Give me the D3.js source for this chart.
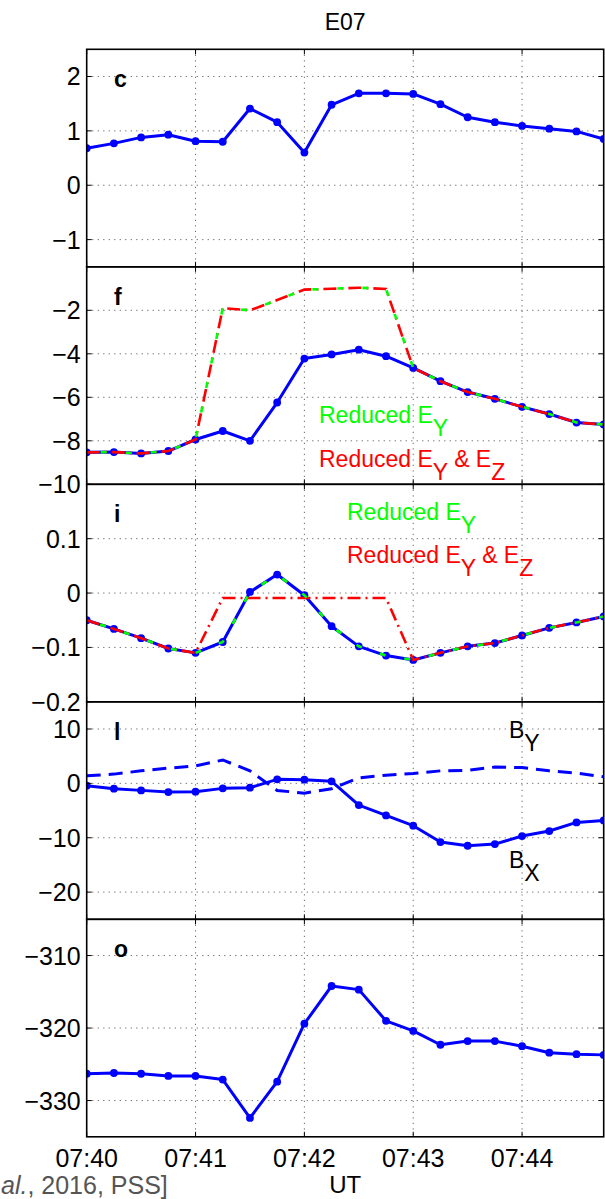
<!DOCTYPE html>
<html><head><meta charset="utf-8">
<script src="https://cdn.jsdelivr.net/npm/d3@7"></script>
<style>
body{margin:0;background:#fff}
svg{display:block}
text{font-family:"Liberation Sans",Arial,Helvetica,sans-serif}
</style>
</head><body>
<svg id="chart" width="605" height="1199"></svg>
<script>
// ---------------- data ----------------
const times = ["07:40:00","07:40:15","07:40:30","07:40:45","07:41:00","07:41:15","07:41:30","07:41:45",
               "07:42:00","07:42:15","07:42:30","07:42:45","07:43:00","07:43:15","07:43:30","07:43:45",
               "07:44:00","07:44:15","07:44:30","07:44:45"];
const xTickLabels = ["07:40","07:41","07:42","07:43","07:44"];
const title = "E07";
const xLabel = "UT";
const panelLetters = ["c","f","i","l","o"];

const panelC = [0.68,0.77,0.88,0.93,0.81,0.80,1.41,1.16,0.60,1.48,1.69,1.69,1.68,1.49,1.25,1.16,1.09,1.04,0.99,0.85];
const ticksC = [-1,0,1,2];

const panelF = [-8.53,-8.52,-8.58,-8.47,-7.94,-7.55,-8.00,-6.24,-4.22,-4.03,-3.81,-4.11,-4.65,-5.26,-5.76,-6.07,-6.44,-6.77,-7.16,-7.25];
const panelFReducedEy = [-8.53,-8.52,-8.58,-8.47,-7.94,-1.90,-2.00,-1.53,-1.05,-1.01,-0.96,-1.02,-4.65,-5.26,-5.76,-6.07,-6.44,-6.77,-7.16,-7.25];
const panelFReducedEyEz = [-8.53,-8.52,-8.58,-8.47,-7.94,-1.90,-2.00,-1.53,-1.05,-1.01,-0.96,-1.02,-4.65,-5.26,-5.76,-6.07,-6.44,-6.77,-7.16,-7.25];
const ticksF = [-10,-8,-6,-4,-2];

const panelI = [-0.050,-0.066,-0.083,-0.102,-0.110,-0.090,0.002,0.034,-0.004,-0.061,-0.098,-0.115,-0.123,-0.110,-0.098,-0.092,-0.078,-0.064,-0.054,-0.043];
const panelIReducedEy = [-0.050,-0.066,-0.083,-0.102,-0.110,-0.090,0.002,0.034,-0.004,-0.061,-0.098,-0.115,-0.123,-0.110,-0.098,-0.092,-0.078,-0.064,-0.054,-0.043];
const panelIReducedEyEz = [-0.050,-0.066,-0.083,-0.102,-0.110,-0.009,-0.009,-0.009,-0.009,-0.009,-0.009,-0.009,-0.123,-0.110,-0.098,-0.092,-0.078,-0.064,-0.054,-0.043];
const ticksI = [-0.2,-0.1,0,0.1];

const panelLBx = [-0.43,-0.98,-1.29,-1.60,-1.53,-0.92,-0.80,0.74,0.67,0.37,-3.99,-5.89,-7.79,-10.8,-11.47,-11.17,-9.69,-8.77,-7.18,-6.81];
const panelLBy = [1.4,1.7,2.3,2.8,3.2,4.3,2.3,-1.3,-1.8,-1.0,1.0,1.5,1.8,2.3,2.4,3.0,2.9,2.3,1.9,1.2];
const ticksL = [-20,-10,0,10];

const panelO = [-326.3,-326.2,-326.3,-326.6,-326.6,-327.1,-332.4,-327.4,-319.4,-314.2,-314.7,-319.0,-320.4,-322.3,-321.8,-321.8,-322.5,-323.4,-323.6,-323.7];
const ticksO = [-330,-320,-310];

const legendEy = ["Reduced E","Y"];
const legendEyEz = ["Reduced E","Y"," & E","Z"];

// ---------------- layout ----------------
const svg = d3.select("#chart");
const left = 86.7, right = 603.7, ph = 217.5;
const tops = [49.3, 266.8, 484.3, 701.8, 919.3];
const BLUE = "#0000ff", GREEN = "#00ff00", RED = "#ff0000";
const parse = d3.utcParse("%H:%M:%S");
const tDates = times.map(parse);
const x = d3.scaleUtc().domain([parse("07:40:00"), parse("07:44:45")]).range([left, right]);
const xTicks = xTickLabels.map(s => parse(s + ":00"));
const fmtMinus = v => d3.format("")(v).replace("-", "\u2212");

const panels = [
  {domain:[-1.5,2.5], ticks:ticksC},
  {domain:[-10,0], ticks:ticksF},
  {domain:[-0.2,0.2], ticks:ticksI},
  {domain:[-25,15], ticks:ticksL},
  {domain:[-335,-305], ticks:ticksO}
];

svg.append("defs").append("clipPath").attr("id","clipAll")
  .append("rect").attr("x",left).attr("y",tops[0]).attr("width",right-left).attr("height",ph*5);

panels.forEach((p,i) => {
  const top = tops[i], bottom = top + ph;
  p.y = d3.scaleLinear().domain(p.domain).range([bottom, top]);
  const g = svg.append("g");
  p.g = g;
  // grid
  const grid = g.append("g").attr("stroke","#555").attr("stroke-width",0.9).attr("stroke-dasharray","1.2,4.3");
  p.ticks.forEach(t => {
    const yy = p.y(t);
    if (yy > top + 1 && yy < bottom - 1)
      grid.append("line").attr("x1",left).attr("x2",right).attr("y1",yy).attr("y2",yy);
  });
  xTicks.forEach(t => {
    const xx = x(t);
    if (xx > left + 1 && xx < right - 1)
      grid.append("line").attr("x1",xx).attr("x2",xx).attr("y1",top).attr("y2",bottom);
  });
  // y tick labels
  p.ticks.forEach(t => {
    g.append("text").attr("x",left-6).attr("y",p.y(t)).attr("dy","0.36em")
      .attr("text-anchor","end").attr("font-size",25).attr("fill","#000")
      .text(fmtMinus(t));
  });
});

function seriesLine(p, values) {
  return d3.line().x((d,k)=>x(tDates[k])).y(d=>p.y(d))(values);
}
function drawSolid(p, values, withMarkers) {
  const g = p.g.append("g").attr("clip-path","url(#clipAll)");
  g.append("path").attr("d",seriesLine(p,values)).attr("fill","none")
    .attr("stroke",BLUE).attr("stroke-width",3).attr("stroke-linejoin","round");
  if (withMarkers) {
    g.selectAll("circle").data(values).join("circle")
      .attr("cx",(d,k)=>x(tDates[k])).attr("cy",d=>p.y(d)).attr("r",3.9).attr("fill",BLUE);
  }
}
function drawDashed(p, values, color, dash, width, offset) {
  p.g.append("path").attr("clip-path","url(#clipAll)").attr("d",seriesLine(p,values)).attr("fill","none")
    .attr("stroke",color).attr("stroke-width",width).attr("stroke-dasharray",dash)
    .attr("stroke-dashoffset",offset||0);
}

// c
drawSolid(panels[0], panelC, true);
// f
drawSolid(panels[1], panelF, true);
drawDashed(panels[1], panelFReducedEyEz, RED, "13,5,2,5", 2.6, 0);
drawDashed(panels[1], panelFReducedEy, GREEN, "6,19", 2.6, -14);
// i
drawSolid(panels[2], panelI, true);
drawDashed(panels[2], panelIReducedEyEz, RED, "13,5,2,5", 2.6, 0);
drawDashed(panels[2], panelIReducedEy, GREEN, "6,19", 2.6, -14);
// l
drawSolid(panels[3], panelLBx, true);
drawDashed(panels[3], panelLBy, BLUE, "14,8", 3, 0);
// o
drawSolid(panels[4], panelO, true);

// legends
function subText(parent, xPos, yPos, parts, color, size) {
  const t = parent.append("text").attr("x",xPos).attr("y",yPos).attr("font-size",size).attr("fill",color);
  parts.forEach((s,k) => {
    const sub = k % 2 === 1;
    t.append("tspan").attr("dy", k===0 ? 0 : (sub ? 13 : -13)).text(s);
  });
  return t;
}
subText(panels[1].g, 319, 423, legendEy, GREEN, 23);
subText(panels[1].g, 319, 466.5, legendEyEz, RED, 23);
subText(panels[2].g, 347, 520, legendEy, GREEN, 23);
subText(panels[2].g, 347, 563, legendEyEz, RED, 23);
subText(panels[3].g, 509, 738.3, ["B","Y"], "#000", 23);
subText(panels[3].g, 509, 868.3, ["B","X"], "#000", 23);

// frames, inner ticks, letters
panels.forEach((p,i) => {
  const top = tops[i], bottom = top + ph, g = p.g;
  const fr = g.append("g").attr("stroke","#000").attr("stroke-width",1.6);
  fr.append("rect").attr("x",left).attr("y",top).attr("width",right-left).attr("height",ph).attr("fill","none");
  const tl = 5;
  p.ticks.forEach(t => {
    const yy = p.y(t);
    fr.append("line").attr("x1",left).attr("x2",left+tl).attr("y1",yy).attr("y2",yy).attr("stroke-width",1);
    fr.append("line").attr("x1",right).attr("x2",right-tl).attr("y1",yy).attr("y2",yy).attr("stroke-width",1);
  });
  xTicks.forEach(t => {
    const xx = x(t);
    fr.append("line").attr("x1",xx).attr("x2",xx).attr("y1",top).attr("y2",top+tl).attr("stroke-width",1);
    fr.append("line").attr("x1",xx).attr("x2",xx).attr("y1",bottom).attr("y2",bottom-tl).attr("stroke-width",1);
  });
  g.append("text").attr("x",114).attr("y",top+37.7).attr("font-size",23).attr("font-weight","bold")
    .attr("fill","#000").text(panelLetters[i]);
});

// x axis labels (bottom panel)
xTicks.forEach((t,k) => {
  svg.append("text").attr("x",x(t)).attr("y",1167).attr("text-anchor","middle")
    .attr("font-size",25).attr("fill","#000").text(xTickLabels[k]);
});
svg.append("text").attr("x",(left+right)/2).attr("y",1193).attr("text-anchor","middle")
  .attr("font-size",24).attr("fill","#000").text(xLabel);
svg.append("text").attr("x",(left+right)/2).attr("y",29.5).attr("text-anchor","middle")
  .attr("font-size",23).attr("fill","#000").text(title);

// citation fragment at bottom-left
const cite = svg.append("text").attr("x",1).attr("y",1194).attr("font-size",25).attr("fill","#555");
cite.append("tspan").attr("font-style","italic").text("al.");
cite.append("tspan").text(", 2016, PSS]");
</script>
</body></html>
